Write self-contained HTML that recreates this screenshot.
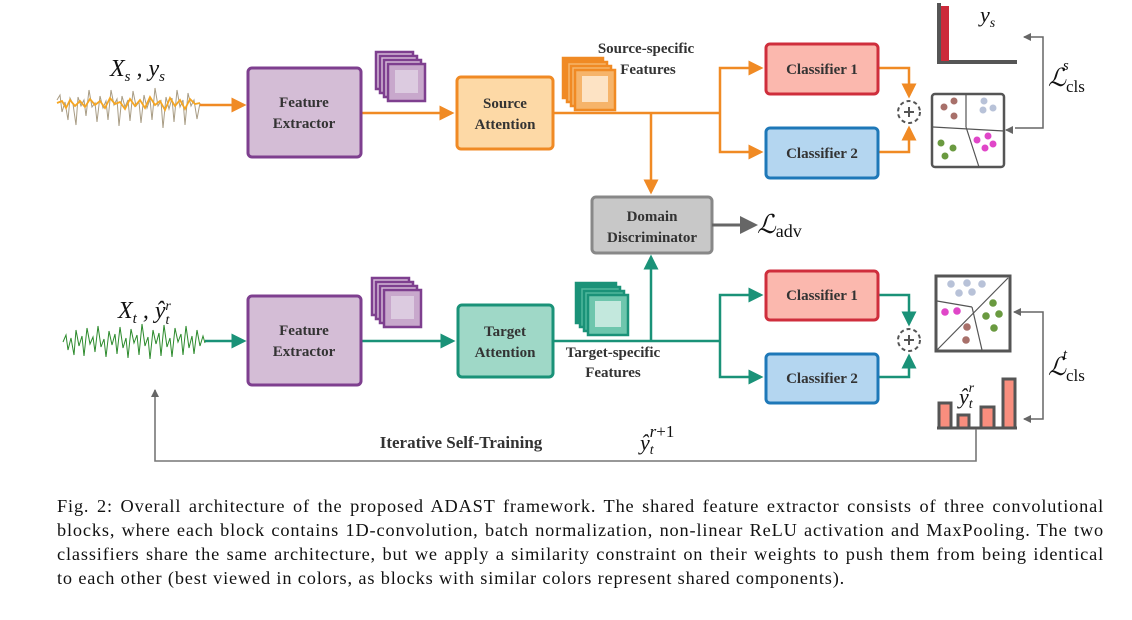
<!DOCTYPE html>
<html><head><meta charset="utf-8"><style>
body{margin:0;background:#fff;width:1132px;height:620px;overflow:hidden}
.cap{position:absolute;left:57px;top:494px;width:1047px;font-family:"Liberation Serif",serif;font-size:18.3px;letter-spacing:0.85px;line-height:24px;color:#111}
.cap div{text-align:justify;text-align-last:justify;white-space:nowrap;overflow:visible}
.cap div.l{text-align-last:left}
</style></head><body>
<svg width="1132" height="490" style="position:absolute;left:0;top:0" font-family="Liberation Serif, serif">
<defs>
<marker id="ao" markerWidth="6" markerHeight="6" refX="5" refY="3" orient="auto" markerUnits="strokeWidth"><path d="M0,0L6,3L0,6z" fill="#f08a24"/></marker>
<marker id="at" markerWidth="6" markerHeight="6" refX="5" refY="3" orient="auto" markerUnits="strokeWidth"><path d="M0,0L6,3L0,6z" fill="#1a9278"/></marker>
<marker id="ag" markerWidth="6" markerHeight="6" refX="5" refY="3" orient="auto" markerUnits="strokeWidth"><path d="M0,0L6,3L0,6z" fill="#666"/></marker>
<marker id="ag2" markerWidth="8" markerHeight="8" refX="7" refY="4" orient="auto" markerUnits="userSpaceOnUse"><path d="M0,0L8,4L0,8z" fill="#666"/></marker>
</defs>
<polyline fill="none" stroke="#a89c84" stroke-width="1" points="57,100 60,95 62,112 65,102 68,120 70,98 73,104 76,125 78,97 81,106 84,100 86,116 89,90 92,107 95,103 97,122 100,96 103,108 106,101 108,120 111,90 114,105 117,99 119,126 122,96 125,107 128,100 130,121 133,91 136,106 139,102 141,123 144,95 147,108 150,99 152,120 155,88 158,106 161,101 163,128 166,97 169,109 172,98 174,122 177,90 180,107 183,100 185,125 188,93 191,106 194,100 197,119 200,103"/>
<polyline fill="none" stroke="#f5a623" stroke-width="1.8" points="57,103 62,101 66,108 70,100 75,106 80,101 85,107 90,99 95,105 100,101 105,108 110,98 115,104 120,102 125,109 130,99 135,106 140,100 145,108 150,97 155,105 160,101 165,110 170,98 175,106 180,100 185,109 190,99 195,104 200,103"/>
<polyline fill="none" stroke="#2b8a2b" stroke-width="1" points="63,342 66,335 68,350 71,338 74,355 76,330 79,346 82,336 84,356 87,328 90,344 93,337 95,352 98,326 101,347 104,339 106,357 109,331 112,345 115,334 117,354 120,327 123,348 126,338 128,358 131,329 134,343 137,335 139,355 142,324 145,346 148,337 150,359 153,330 156,344 159,333 161,356 164,325 167,347 170,338 172,357 175,328 178,342 181,334 183,355 186,326 189,348 192,336 194,354 197,330 200,346 203,336 205,343"/>
<text x="110" y="76" font-size="24" font-style="italic" fill="#111">X<tspan font-size="15" dy="5">s</tspan><tspan dy="-5"> , y</tspan><tspan font-size="15" dy="5">s</tspan></text>
<text x="118" y="318" font-size="24" font-style="italic" fill="#111">X<tspan font-size="15" dy="5">t</tspan><tspan dy="-5"> , ŷ</tspan><tspan font-size="14" dy="6">t</tspan><tspan font-size="14" dx="-4" dy="-14">r</tspan></text>
<line x1="200" y1="105" x2="244" y2="105" stroke="#f08a24" stroke-width="2.5" marker-end="url(#ao)"/>
<line x1="362" y1="113" x2="452" y2="113" stroke="#f08a24" stroke-width="2.5" marker-end="url(#ao)"/>
<polyline points="553,113 720,113" fill="none" stroke="#f08a24" stroke-width="2.5"/>
<polyline points="720,113 720,68 761,68" fill="none" stroke="#f08a24" stroke-width="2.5" marker-end="url(#ao)"/>
<polyline points="720,113 720,152 761,152" fill="none" stroke="#f08a24" stroke-width="2.5" marker-end="url(#ao)"/>
<line x1="651" y1="113" x2="651" y2="192" stroke="#f08a24" stroke-width="2.5" marker-end="url(#ao)"/>
<polyline points="878,68 909,68 909,96" fill="none" stroke="#f08a24" stroke-width="2.5" marker-end="url(#ao)"/>
<polyline points="878,152 909,152 909,128" fill="none" stroke="#f08a24" stroke-width="2.5" marker-end="url(#ao)"/>
<line x1="205" y1="341" x2="244" y2="341" stroke="#1a9278" stroke-width="2.5" marker-end="url(#at)"/>
<line x1="362" y1="341" x2="453" y2="341" stroke="#1a9278" stroke-width="2.5" marker-end="url(#at)"/>
<polyline points="553,341 720,341" fill="none" stroke="#1a9278" stroke-width="2.5"/>
<polyline points="720,341 720,295 761,295" fill="none" stroke="#1a9278" stroke-width="2.5" marker-end="url(#at)"/>
<polyline points="720,341 720,377 761,377" fill="none" stroke="#1a9278" stroke-width="2.5" marker-end="url(#at)"/>
<line x1="651" y1="341" x2="651" y2="257" stroke="#1a9278" stroke-width="2.5" marker-end="url(#at)"/>
<polyline points="878,295 909,295 909,324" fill="none" stroke="#1a9278" stroke-width="2.5" marker-end="url(#at)"/>
<polyline points="878,377 909,377 909,356" fill="none" stroke="#1a9278" stroke-width="2.5" marker-end="url(#at)"/>
<g stroke="#7e3f8f" stroke-width="2.5" fill="#d4b8d6"><rect x="376" y="52" width="37" height="37"/><rect x="380" y="56" width="37" height="37"/><rect x="384" y="60" width="37" height="37"/><rect x="388" y="64" width="37" height="37" fill="#c8a8cc"/><rect x="395" y="70" width="23" height="23" fill="#dccbe0" stroke="none"/></g>
<g stroke="#7e3f8f" stroke-width="2.5" fill="#d4b8d6"><rect x="372" y="278" width="37" height="37"/><rect x="376" y="282" width="37" height="37"/><rect x="380" y="286" width="37" height="37"/><rect x="384" y="290" width="37" height="37" fill="#c8a8cc"/><rect x="391" y="296" width="23" height="23" fill="#dccbe0" stroke="none"/></g>
<g stroke="#f08a24" stroke-width="2.5" fill="#f6b46a"><rect x="563" y="58" width="40" height="40" fill="#f08a24"/><rect x="567" y="62" width="40" height="40"/><rect x="571" y="66" width="40" height="40"/><rect x="575" y="70" width="40" height="40" fill="#f6b46a"/><rect x="582" y="76" width="26" height="26" fill="#fde3c4" stroke="none"/></g>
<g stroke="#1a9278" stroke-width="2.5" fill="#4fb79c"><rect x="576" y="283" width="40" height="40" fill="#1a9278"/><rect x="580" y="287" width="40" height="40"/><rect x="584" y="291" width="40" height="40"/><rect x="588" y="295" width="40" height="40" fill="#6ec6ad"/><rect x="595" y="301" width="26" height="26" fill="#c3e8dd" stroke="none"/></g>
<g font-weight="bold" font-size="15" fill="#333" text-anchor="middle">
<rect x="248" y="68" width="113" height="89" rx="4" fill="#d4bdd6" stroke="#7e3f8f" stroke-width="3"/>
<text x="304" y="107">Feature</text><text x="304" y="128">Extractor</text>
<rect x="248" y="296" width="113" height="89" rx="4" fill="#d4bdd6" stroke="#7e3f8f" stroke-width="3"/>
<text x="304" y="335">Feature</text><text x="304" y="356">Extractor</text>
<rect x="457" y="77" width="96" height="72" rx="4" fill="#fdd9a6" stroke="#f08a24" stroke-width="3"/>
<text x="505" y="108">Source</text><text x="505" y="129">Attention</text>
<rect x="458" y="305" width="95" height="72" rx="4" fill="#9fd8c7" stroke="#1a9278" stroke-width="3"/>
<text x="505" y="336">Target</text><text x="505" y="357">Attention</text>
<rect x="592" y="197" width="120" height="56" rx="4" fill="#c8c8c8" stroke="#888" stroke-width="3"/>
<text x="652" y="221">Domain</text><text x="652" y="242">Discriminator</text>
<rect x="766" y="44" width="112" height="50" rx="4" fill="#fbb8ae" stroke="#cf2e3c" stroke-width="3"/>
<text x="822" y="74">Classifier 1</text>
<rect x="766" y="128" width="112" height="50" rx="4" fill="#b4d6f0" stroke="#1e78b8" stroke-width="3"/>
<text x="822" y="158">Classifier 2</text>
<rect x="766" y="271" width="112" height="49" rx="4" fill="#fbb8ae" stroke="#cf2e3c" stroke-width="3"/>
<text x="822" y="300">Classifier 1</text>
<rect x="766" y="354" width="112" height="49" rx="4" fill="#b4d6f0" stroke="#1e78b8" stroke-width="3"/>
<text x="822" y="383">Classifier 2</text>
<text x="646" y="53">Source-specific</text><text x="648" y="74">Features</text>
<text x="613" y="357">Target-specific</text><text x="613" y="377">Features</text>
<text x="461" y="448" font-size="17">Iterative Self-Training</text>
</g>
<line x1="712" y1="225" x2="755" y2="225" stroke="#666" stroke-width="3" marker-end="url(#ag)"/>
<text x="757" y="233" font-size="26" font-style="italic" fill="#111">ℒ<tspan font-style="normal" font-size="18" dy="4">adv</tspan></text>
<text x="640" y="450" font-size="22" font-style="italic" fill="#111">ŷ<tspan font-size="14" dy="4">t</tspan><tspan font-size="17" dx="-4" dy="-17" font-style="normal"><tspan font-style="italic">r</tspan>+1</tspan></text>
<g fill="none" stroke="#555" stroke-width="2" stroke-dasharray="4,3"><circle cx="909" cy="112" r="11"/><circle cx="909" cy="340" r="11"/></g>
<g stroke="#555" stroke-width="2"><path d="M904,112h10M909,107v10M904,340h10M909,335v10"/></g>
<path d="M939,3V62H1017" fill="none" stroke="#555" stroke-width="4"/>
<rect x="941" y="6" width="8" height="55" fill="#cc2a3a"/>
<text x="980" y="22" font-size="22" font-style="italic" fill="#111">y<tspan font-size="14" dy="5">s</tspan></text>
<rect x="932" y="94" width="72" height="73" rx="3" fill="#fff" stroke="#555" stroke-width="2.5"/>
<path d="M933,127L1004,131M966,94L966,127M966,127L979,167" fill="none" stroke="#555" stroke-width="1.2"/>
<g fill="#a8706a"><circle cx="944" cy="107" r="3.5"/><circle cx="954" cy="101" r="3.5"/><circle cx="954" cy="116" r="3.5"/></g>
<g fill="#b8c2d8"><circle cx="984" cy="101" r="3.5"/><circle cx="983" cy="110" r="3.5"/><circle cx="993" cy="108" r="3.5"/></g>
<g fill="#6a9a40"><circle cx="941" cy="143" r="3.5"/><circle cx="953" cy="148" r="3.5"/><circle cx="945" cy="156" r="3.5"/></g>
<g fill="#e046c8"><circle cx="988" cy="136" r="3.5"/><circle cx="977" cy="140" r="3.5"/><circle cx="993" cy="144" r="3.5"/><circle cx="985" cy="148" r="3.5"/></g>
<rect x="936" y="276" width="74" height="75" fill="#fff" stroke="#555" stroke-width="3"/>
<path d="M937,301L972,307M1008,278L937,350M972,307L982,350" fill="none" stroke="#555" stroke-width="1.2"/>
<g fill="#b8c2d8"><circle cx="951" cy="284" r="3.8"/><circle cx="967" cy="283" r="3.8"/><circle cx="982" cy="284" r="3.8"/><circle cx="959" cy="293" r="3.8"/><circle cx="972" cy="292" r="3.8"/></g>
<g fill="#e046c8"><circle cx="945" cy="312" r="3.8"/><circle cx="957" cy="311" r="3.8"/></g>
<g fill="#a8706a"><circle cx="967" cy="327" r="3.8"/><circle cx="966" cy="340" r="3.8"/></g>
<g fill="#6a9a40"><circle cx="993" cy="303" r="3.8"/><circle cx="986" cy="316" r="3.8"/><circle cx="999" cy="314" r="3.8"/><circle cx="994" cy="328" r="3.8"/></g>
<g fill="#f98e7e" stroke="#555" stroke-width="3"><rect x="939" y="403" width="12" height="25"/><rect x="958" y="415" width="11" height="13"/><rect x="981" y="407" width="13" height="21"/><rect x="1003" y="379" width="12" height="49"/></g>
<line x1="937" y1="428" x2="1017" y2="428" stroke="#555" stroke-width="3"/>
<text x="959" y="404" font-size="22" font-style="italic" fill="#111">ŷ<tspan font-size="14" dy="4">t</tspan><tspan font-size="14" dx="-4" dy="-16">r</tspan></text>
<path d="M1015,128H1043V37H1024" fill="none" stroke="#666" stroke-width="1.5" marker-end="url(#ag2)"/>
<path d="M1011,130H1006" fill="none" stroke="#666" stroke-width="1.5" marker-end="url(#ag2)"/>
<text x="1048" y="86" font-size="25" font-style="italic" fill="#111">ℒ<tspan font-style="normal" font-size="17" dy="6">cls</tspan><tspan font-size="15" dx="-22" dy="-22">s</tspan></text>
<path d="M1020,312H1043V419H1024" fill="none" stroke="#666" stroke-width="1.5" marker-end="url(#ag2)"/>
<path d="M1019,312H1014" fill="none" stroke="#666" stroke-width="1.5" marker-end="url(#ag2)"/>
<text x="1048" y="375" font-size="25" font-style="italic" fill="#111">ℒ<tspan font-style="normal" font-size="17" dy="6">cls</tspan><tspan font-size="15" dx="-22" dy="-22">t</tspan></text>
<path d="M976,429V461H155V390" fill="none" stroke="#777" stroke-width="1.6" marker-end="url(#ag2)"/>
</svg>
<div class="cap">
<div>Fig. 2: Overall architecture of the proposed ADAST framework. The shared feature extractor consists of three convolutional</div>
<div>blocks, where each block contains 1D-convolution, batch normalization, non-linear ReLU activation and MaxPooling. The two</div>
<div>classifiers share the same architecture, but we apply a similarity constraint on their weights to push them from being identical</div>
<div class="l">to each other (best viewed in colors, as blocks with similar colors represent shared components).</div>
</div>
</body></html>
